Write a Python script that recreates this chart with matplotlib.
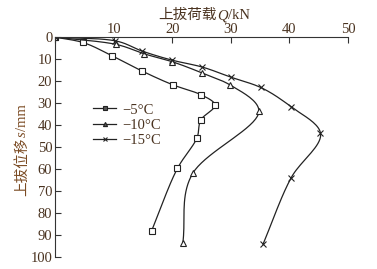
import numpy as np
import matplotlib
matplotlib.use('Agg')
import matplotlib.pyplot as plt

plt.rcParams['font.family'] = ['Liberation Serif', 'Noto Sans CJK SC']
plt.rcParams['axes.unicode_minus'] = True

# uplift load Q (kN) and displacement s (mm)
q_5 = [0, 4.7, 9.8, 14.9, 20.2, 24.9, 27.3, 24.9, 24.2, 20.9, 16.5]
s_5 = [0, 2.4, 8.6, 15.5, 21.8, 26.2, 30.8, 37.6, 46.0, 59.7, 88.0]
q_10 = [0, 10.4, 15.2, 20.0, 25.0, 29.9, 34.8, 23.5, 21.8]
s_10 = [0, 3.3, 7.6, 11.2, 16.2, 21.8, 33.6, 62.0, 93.8]
q_15 = [0, 10.3, 14.9, 20.0, 25.1, 30.1, 35.1, 40.3, 45.3, 40.3, 35.5]
s_15 = [0, 1.7, 6.4, 10.5, 13.6, 18.3, 22.9, 31.7, 43.5, 64.0, 94.2]
labels = ['\u22125\u00b0C', '\u221210\u00b0C', '\u221215\u00b0C']
markers = ['s', '^', 'x']

txt_col = '#4a3320'
lab_col = '#7a4a22'
cjk = ['Noto Sans CJK SC']
serif = ['Liberation Serif']


def smooth(x, y, n=20):
    # centripetal catmull-rom through the measured points (drawing only)
    p = np.column_stack([x, y]).astype(float)
    p = np.vstack([2 * p[0] - p[1], p, 2 * p[-1] - p[-2]])
    out = []
    for i in range(1, len(p) - 2):
        p0, p1, p2, p3 = p[i - 1], p[i], p[i + 1], p[i + 2]
        t0 = 0.0
        t1 = t0 + np.linalg.norm(p1 - p0) ** 0.5 + 1e-9
        t2 = t1 + np.linalg.norm(p2 - p1) ** 0.5 + 1e-9
        t3 = t2 + np.linalg.norm(p3 - p2) ** 0.5 + 1e-9
        t = np.linspace(t1, t2, n)[:, None]
        a1 = (t1 - t) / (t1 - t0) * p0 + (t - t0) / (t1 - t0) * p1
        a2 = (t2 - t) / (t2 - t1) * p1 + (t - t1) / (t2 - t1) * p2
        a3 = (t3 - t) / (t3 - t2) * p2 + (t - t2) / (t3 - t2) * p3
        b1 = (t2 - t) / (t2 - t0) * a1 + (t - t0) / (t2 - t0) * a2
        b2 = (t3 - t) / (t3 - t1) * a2 + (t - t1) / (t3 - t1) * a3
        c = (t2 - t) / (t2 - t1) * b1 + (t - t1) / (t2 - t1) * b2
        out.append(c)
    c = np.vstack(out)
    return c[:, 0], c[:, 1]


def mixed_label(fig, pieces, x, y, rotation=0, color='k', size=10.5):
    # pieces: list of (text, family, style); laid out one after another
    r = fig.canvas.get_renderer()
    arts = []
    for s, fam, sty in pieces:
        t = fig.text(0, 0, s, family=fam, style=sty, fontsize=size, color=color,
                     rotation=rotation, ha='left', va='baseline' if rotation == 0 else 'bottom',
                     transform=None)
        arts.append(t)
    sizes = []
    for t in arts:
        bb = t.get_window_extent(r)
        sizes.append(bb.width if rotation == 0 else bb.height)
    total = sum(sizes)
    pos = (x if rotation == 0 else y) - total / 2
    for t, w in zip(arts, sizes):
        if rotation == 0:
            t.set_position((pos, y))
        else:
            t.set_ha('center')
            t.set_va('bottom')
            t.set_position((x, pos))
        pos += w


fig = plt.figure(figsize=(3.77, 2.69), dpi=100)
ax = fig.add_axes([0.146, 0.045, 0.777, 0.817])

for (qx, sy), lab, mk in zip([(q_5, s_5), (q_10, s_10), (q_15, s_15)], labels, markers):
    xs, ys = smooth(qx, sy)
    ax.plot(xs, ys, color='#222222', lw=0.9)
    ax.plot(qx, sy, ls='none', marker=mk, ms=4.5,
            mfc='white' if mk != 'x' else '#222222', mec='#222222', mew=0.8)
    ax.plot([], [], color='#222222', lw=0.9, marker=mk, ms=3, mfc='#555555',
            mec='#222222', mew=0.8, label=lab)

ax.set_xlim(0, 50)
ax.set_ylim(100, 0)
ax.set_xticks([0, 10, 20, 30, 40, 50])
ax.set_xticklabels(['', '10', '20', '30', '40', '50'])
ax.set_yticks(np.arange(0, 101, 10))
ax.xaxis.tick_top()
ax.tick_params(direction='in', length=4, width=0.8, labelsize=10.5,
               colors='#333333', labelcolor=txt_col, pad=2)
ax.tick_params(axis='x', pad=1)
for side in ['right', 'bottom']:
    ax.spines[side].set_visible(False)
for side in ['left', 'top']:
    ax.spines[side].set_linewidth(0.8)
    ax.spines[side].set_color('#333333')

leg = ax.legend(loc='upper left', bbox_to_anchor=(0.11, 0.725), frameon=False,
                fontsize=10.5, handlelength=1.6, handletextpad=0.4,
                labelspacing=0.15, borderaxespad=0)
for t in leg.get_texts():
    t.set_color(txt_col)

# axis titles in pixel coordinates (origin bottom-left)
mixed_label(fig, [('上拔荷载', cjk, 'normal'), ('Q', serif, 'italic'), ('/kN', serif, 'normal')],
            204, 269 - 19, color=txt_col)
mixed_label(fig, [('上拔位移', cjk, 'normal'), ('s', serif, 'italic'), ('/mm', serif, 'normal')],
            22, 269 - 150, rotation=90, color=lab_col)

fig.savefig('out.png', dpi=100)
